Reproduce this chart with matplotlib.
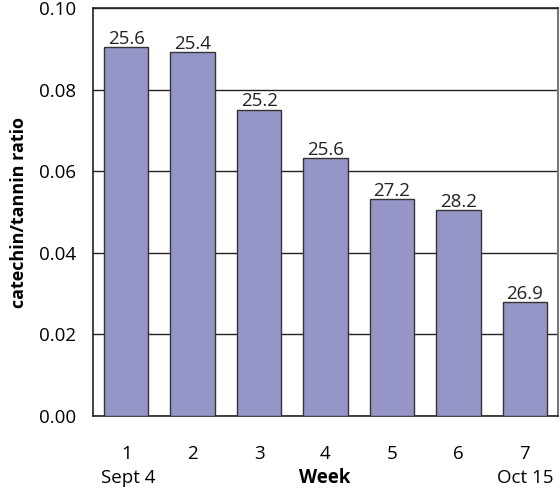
import matplotlib
matplotlib.use("Agg")
import matplotlib.pyplot as plt

weeks = [1, 2, 3, 4, 5, 6, 7]
week_labels = ["1", "2", "3", "4", "5", "6", "7"]
ratio = [0.0904, 0.0892, 0.0751, 0.0633, 0.0532, 0.0505, 0.0279]
bar_labels = ["25.6", "25.4", "25.2", "25.6", "27.2", "28.2", "26.9"]
yticks = [0.00, 0.02, 0.04, 0.06, 0.08, 0.10]

plt.rcParams['font.family'] = ['Open Sans', 'DejaVu Sans']
FS = 13.5

fig = plt.figure(figsize=(5.6, 4.88), dpi=100)
ax = fig.add_axes([93/560, 1-416/488, (558-93)/560, (416-8)/488])

ax.bar(weeks, ratio, width=0.67, color='#9595c8', edgecolor='#333333', linewidth=1.0, zorder=3)
for x, v, lab in zip(weeks, ratio, bar_labels):
    ax.text(x, v - 0.0002, lab, ha='center', va='bottom', fontsize=FS, color='#222222', zorder=4)

ax.set_xlim(0.5, 7.5)
ax.set_ylim(0, 0.10)
ax.set_yticks(yticks)
ax.set_yticklabels([f"{t:.2f}" for t in yticks], fontsize=FS)
ax.set_xticks(weeks)
ax.set_xticklabels(week_labels, fontsize=FS)
ax.tick_params(axis='y', length=0, pad=12)
ax.tick_params(axis='x', length=0, pad=21)
ax.yaxis.grid(True, color='#222222', linewidth=1.0, zorder=0)
ax.set_axisbelow(True)
for s in ax.spines.values():
    s.set_color('#222222')
    s.set_linewidth(1.2)
ax.spines['right'].set_color('#777777')
ax.spines['right'].set_linewidth(1.5)

ax.set_ylabel("catechin/tannin ratio", fontsize=FS - 0.5, fontweight='bold', labelpad=8)

fig.text(128/560, 1-478/488, "Sept 4", ha='center', va='center', fontsize=FS)
fig.text(325/560, 1-478/488, "Week", ha='center', va='center', fontsize=FS, fontweight='bold')
fig.text(525/560, 1-478/488, "Oct 15", ha='center', va='center', fontsize=FS)

fig.savefig("out.png", dpi=100)
